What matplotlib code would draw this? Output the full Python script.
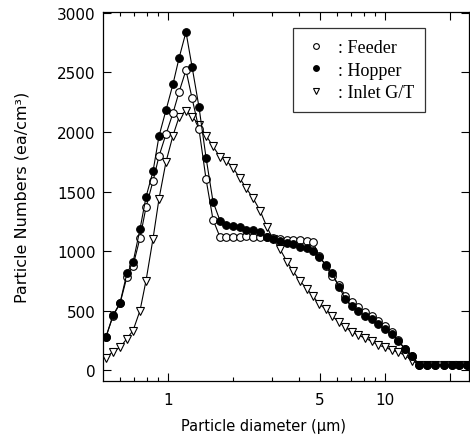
import matplotlib
matplotlib.use("Agg")
import matplotlib.pyplot as plt
from matplotlib.ticker import FixedLocator, NullFormatter, FixedFormatter

# particle diameter (um)
diameter = [0.518, 0.558, 0.601, 0.647, 0.690, 0.743, 0.792, 0.853, 0.909, 0.979,
            1.054, 1.124, 1.210, 1.290, 1.389, 1.497, 1.612, 1.736, 1.851, 1.993,
            2.147, 2.288, 2.464, 2.655, 2.859, 3.047, 3.282, 3.535, 3.767, 4.058,
            4.371, 4.658, 4.965, 5.348, 5.700, 6.138, 6.543, 7.046, 7.509, 8.088,
            8.712, 9.285, 10.00, 10.77, 11.48, 12.37, 13.32, 14.35, 15.62, 17.00,
            18.71, 20.37, 21.93, 23.88]

feeder = [280, 455, 560, 785, 878, 1109, 1369, 1588, 1798, 1982,
          2159, 2335, 2520, 2285, 2024, 1604, 1264, 1117, 1117, 1117,
          1120, 1125, 1120, 1115, 1115, 1110, 1100, 1090, 1090, 1090,
          1085, 1075, 960, 874, 790, 714, 626, 575, 533, 487,
          454, 410, 370, 320, 250, 180, 120, 45, 45, 45,
          45, 45, 45, 45]

hopper = [280, 460, 565, 815, 905, 1185, 1455, 1670, 1966, 2184,
          2402, 2620, 2840, 2550, 2210, 1785, 1415, 1255, 1215, 1210,
          1205, 1180, 1176, 1160, 1115, 1105, 1088, 1070, 1055, 1038,
          1025, 1000, 950, 885, 815, 700, 600, 538, 496, 454,
          428, 386, 344, 302, 244, 176, 118, 42, 42, 42,
          42, 42, 42, 42]

inlet = [105, 155, 190, 265, 332, 500, 752, 1105, 1440, 1750,
         1970, 2125, 2180, 2130, 2060, 1970, 1880, 1790, 1760, 1700,
         1610, 1530, 1445, 1340, 1200, 1100, 1016, 910, 832, 748,
         680, 622, 554, 512, 454, 403, 361, 319, 294, 269,
         240, 212, 190, 168, 150, 125, 80, 45, 45, 45,
         45, 45, 45, 45]

x_major = [1, 5, 10, 20]
x_major_labels = ["1", "5", "10", ""]
x_minor = [0.6, 0.7, 0.8, 0.9, 2, 3, 4, 6, 7, 8, 9]
y_ticks = [0, 500, 1000, 1500, 2000, 2500, 3000]

fig = plt.figure(figsize=(4.70, 4.39), dpi=100)
ax = fig.add_axes([0.2185, 0.1298, 0.7795, 0.8406])

ax.plot(diameter, inlet, color="black", lw=0.8, marker="v", ms=5.2,
        mfc="white", mec="black", mew=0.8, label=": Inlet G/T", zorder=2)
ax.plot(diameter, feeder, color="black", lw=0.8, marker="o", ms=5.5,
        mfc="white", mec="black", mew=0.8, label=": Feeder", zorder=3)
ax.plot(diameter, hopper, color="black", lw=0.8, marker="o", ms=5.5,
        mfc="black", mec="black", mew=0.8, label=": Hopper", zorder=4)

ax.set_xscale("log")
ax.set_xlim(0.5, 24.4)
ax.set_ylim(-92, 3008)

ax.xaxis.set_major_locator(FixedLocator(x_major))
ax.xaxis.set_major_formatter(FixedFormatter(x_major_labels))
ax.xaxis.set_minor_locator(FixedLocator(x_minor))
ax.xaxis.set_minor_formatter(NullFormatter())
ax.set_yticks(y_ticks)

ax.tick_params(which="both", direction="in", top=True, right=True,
               labelsize=11, width=0.8)
ax.tick_params(axis="x", which="major", length=6, pad=8)
ax.tick_params(axis="y", which="major", length=6, pad=5)
ax.tick_params(which="minor", length=3)
for s in ax.spines.values():
    s.set_linewidth(0.9)

ax.set_xlabel("Particle diameter (μm)", fontsize=10.5)
ax.xaxis.set_label_coords(0.44, -0.1)
ax.set_ylabel("Particle Numbers (ea/cm³)", fontsize=11.5)
ax.yaxis.set_label_coords(-0.2, 0.5)

h, l = ax.get_legend_handles_labels()
order = [1, 2, 0]
leg = ax.legend([h[i] for i in order], [l[i] for i in order],
                loc="upper right", bbox_to_anchor=(0.905, 0.98),
                prop={"family": "Liberation Serif", "size": 13},
                frameon=True, fancybox=False, edgecolor="black",
                handlelength=1.4, handletextpad=0.5, borderpad=0.6,
                labelspacing=0.3, markerscale=0.75)
leg.get_frame().set_linewidth(0.9)
for ln in leg.get_lines():
    ln.set_linestyle("none")

fig.savefig("out.png", dpi=100)
